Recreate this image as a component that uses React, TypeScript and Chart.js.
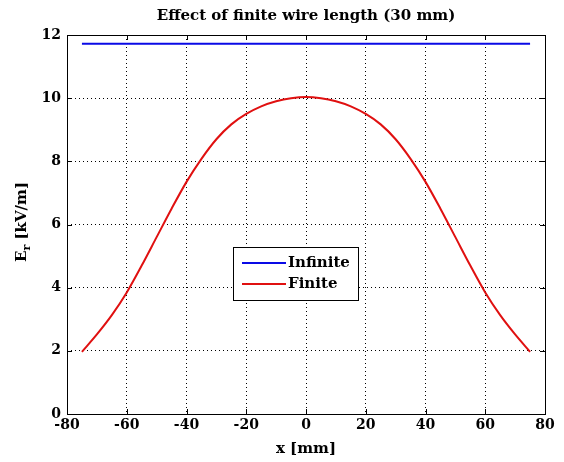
import React, { useEffect, useRef } from "react";
import { Chart, registerables } from "chart.js";

Chart.register(...registerables);

const xPositions = [-75, -70, -65, -60, -55, -50, -45, -40, -35, -30, -25, -20, -15, -10, -5, 0, 5, 10, 15, 20, 25, 30, 35, 40, 45, 50, 55, 60, 65, 70, 75];
const finiteValues = [1.97, 2.52, 3.13, 3.85, 4.7, 5.6, 6.5, 7.35, 8.08, 8.7, 9.17, 9.5, 9.74, 9.9, 10.0, 10.04, 10.0, 9.9, 9.74, 9.5, 9.17, 8.7, 8.08, 7.35, 6.5, 5.6, 4.7, 3.85, 3.13, 2.52, 1.97];
const infiniteX = [-75, 75];
const infiniteValues = [11.72, 11.72];
const seriesLabels = ["Infinite", "Finite"];
const seriesColors = ["#0a0ae6", "#e01010"];
const chartTitle = "Effect of finite wire length (30 mm)";
const xTitle = "x [mm]";
const yTitleMain = "E";
const yTitleSub = "r";
const yTitleRest = " [kV/m]";

const FONT = "'DejaVu Serif', serif";

const decorPlugin = {
  id: "decor",
  afterDraw(chart: any) {
    const { ctx, chartArea } = chart;
    const { left, right, top, bottom } = chartArea;
    const xs = chart.scales.x;
    const ys = chart.scales.y;
    ctx.save();
    // box
    ctx.strokeStyle = "#000";
    ctx.lineWidth = 1;
    ctx.setLineDash([]);
    ctx.strokeRect(Math.round(left) + 0.5, Math.round(top) + 0.5, Math.round(right - left), Math.round(bottom - top));
    // inward ticks
    const tl = 5;
    ctx.beginPath();
    xs.ticks.forEach((t: any) => {
      const px = Math.round(xs.getPixelForValue(t.value)) + 0.5;
      ctx.moveTo(px, bottom);
      ctx.lineTo(px, bottom - tl);
      ctx.moveTo(px, top);
      ctx.lineTo(px, top + tl);
    });
    ys.ticks.forEach((t: any) => {
      const py = Math.round(ys.getPixelForValue(t.value)) + 0.5;
      ctx.moveTo(left, py);
      ctx.lineTo(left + tl, py);
      ctx.moveTo(right, py);
      ctx.lineTo(right - tl, py);
    });
    ctx.stroke();

    // title
    ctx.fillStyle = "#000";
    ctx.font = `bold 15px ${FONT}`;
    ctx.textAlign = "center";
    ctx.textBaseline = "middle";
    ctx.fillText(chartTitle, (left + right) / 2, 16);

    // x title
    ctx.font = `bold 15px ${FONT}`;
    ctx.fillText(xTitle, (left + right) / 2, 449);

    // y title with subscript
    ctx.save();
    ctx.translate(21, 222);
    ctx.rotate(-Math.PI / 2);
    const mainFont = `bold 15px ${FONT}`;
    const subFont = `bold 11px ${FONT}`;
    ctx.font = mainFont;
    const wE = ctx.measureText(yTitleMain).width;
    const wRest = ctx.measureText(yTitleRest).width;
    ctx.font = subFont;
    const wSub = ctx.measureText(yTitleSub).width;
    const total = wE + wSub + wRest;
    let x0 = -total / 2;
    ctx.textAlign = "left";
    ctx.textBaseline = "alphabetic";
    ctx.font = mainFont;
    ctx.fillText(yTitleMain, x0, 5);
    x0 += wE;
    ctx.font = subFont;
    ctx.fillText(yTitleSub, x0, 9);
    x0 += wSub;
    ctx.font = mainFont;
    ctx.fillText(yTitleRest, x0, 5);
    ctx.restore();

    // legend
    const bx = 233, by = 247, bw = 125, bh = 53;
    ctx.fillStyle = "#fff";
    ctx.fillRect(bx, by, bw, bh);
    ctx.strokeStyle = "#000";
    ctx.lineWidth = 1;
    ctx.strokeRect(bx + 0.5, by + 0.5, bw, bh);
    chart.data.datasets.forEach((ds: any, i: number) => {
      const ly = by + 16 + i * 21;
      ctx.strokeStyle = ds.borderColor;
      ctx.lineWidth = 2;
      ctx.beginPath();
      ctx.moveTo(bx + 9, ly);
      ctx.lineTo(bx + 53, ly);
      ctx.stroke();
      ctx.fillStyle = "#000";
      ctx.font = `bold 15px ${FONT}`;
      ctx.textAlign = "left";
      ctx.textBaseline = "middle";
      ctx.fillText(ds.label, bx + 55, ly);
    });
    ctx.restore();
  },
};

export default function App() {
  const ref = useRef<HTMLCanvasElement>(null);
  useEffect(() => {
    document.body.style.margin = "0";
    const infiniteData = infiniteX.map((x, i) => ({ x, y: infiniteValues[i] }));
    const finiteData = xPositions.map((x, i) => ({ x, y: finiteValues[i] }));
    const chart = new Chart(ref.current!, {
      type: "line",
      data: {
        datasets: [
          { label: seriesLabels[0], data: infiniteData, borderColor: seriesColors[0], borderWidth: 2, pointRadius: 0, fill: false },
          { label: seriesLabels[1], data: finiteData, borderColor: seriesColors[1], borderWidth: 2, pointRadius: 0, fill: false, cubicInterpolationMode: "monotone" },
        ],
      },
      options: {
        animation: false,
        responsive: false,
        layout: { padding: { left: 0, right: 19, top: 35, bottom: 0 } },
        plugins: {
          legend: { display: false },
          tooltip: { enabled: false },
          title: { display: false },
        },
        scales: {
          x: {
            type: "linear",
            min: -80,
            max: 80,
            ticks: { stepSize: 20, color: "#000", font: { family: FONT, size: 14, weight: "bold" }, padding: 3, maxRotation: 0 },
            grid: { color: "#000", lineWidth: 1, drawTicks: false },
            border: { display: false, dash: [1, 3] },
            afterFit: (s: any) => { s.height = 48; },
          },
          y: {
            type: "linear",
            min: 0,
            max: 12,
            ticks: { stepSize: 2, color: "#000", font: { family: FONT, size: 14, weight: "bold" }, padding: 6 },
            grid: { color: "#000", lineWidth: 1, drawTicks: false },
            border: { display: false, dash: [1, 3] },
            afterFit: (s: any) => { s.width = 67; },
          },
        },
      },
      plugins: [decorPlugin],
    } as any);
    return () => chart.destroy();
  }, []);
  return (
    <div style={{ position: "absolute", left: 0, top: 0, width: 564, height: 462, background: "#fff" }}>
      <canvas ref={ref} width={564} height={462} style={{ width: 564, height: 462 }} />
    </div>
  );
}
